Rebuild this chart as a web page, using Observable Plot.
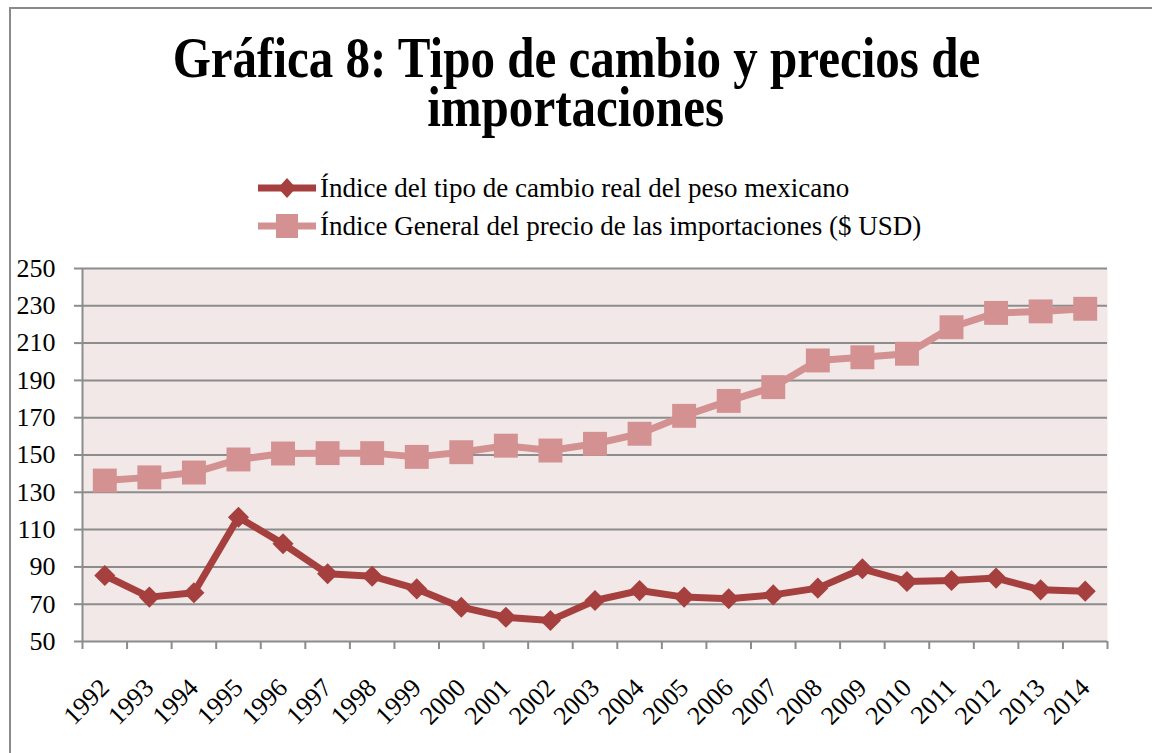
<!DOCTYPE html>
<html>
<head>
<meta charset="utf-8">
<script src="https://cdn.jsdelivr.net/npm/d3@7"></script>
<script src="https://cdn.jsdelivr.net/npm/@observablehq/plot@0.6"></script>
<style>
  html, body { margin: 0; padding: 0; background: #fff; }
  #wrap { position: relative; width: 1152px; height: 753px; overflow: hidden; font-family: "Liberation Serif", serif; }
  #frame { position: absolute; left: 9px; top: 7px; width: 1200px; height: 800px; border-top: 2px solid #8a8a8a; border-left: 2px solid #8a8a8a; }
  .title { position: absolute; left: 0; width: 1152px; height: 40px; text-align: center; font-weight: bold; font-size: 57px; line-height: 40px; color: #000; white-space: nowrap; }
  .title span { display: inline-block; transform: scaleX(0.86); transform-origin: center; }
  .leg { position: absolute; left: 256px; font-size: 27px; line-height: 30px; color: #000; white-space: nowrap; display: flex; align-items: center; }
  .leg svg { display: block; margin-right: 2px; }
  #chart { position: absolute; left: 0; top: 250px; }
</style>
</head>
<body>
<div id="wrap">
  <div id="frame"></div>
  <div class="title" style="top:38px"><span>Gráfica 8: Tipo de cambio y precios de</span></div>
  <div class="title" style="top:87px"><span>importaciones</span></div>
  <div class="leg" id="leg1" style="top:173px"></div>
  <div class="leg" id="leg2" style="top:211px"></div>
  <div id="chart"></div>
</div>
<script>
const years = [1992,1993,1994,1995,1996,1997,1998,1999,2000,2001,2002,2003,2004,2005,2006,2007,2008,2009,2010,2011,2012,2013,2014];
const tipoCambio = [85.4,73.8,76.1,116.6,102.4,86.3,85,78.2,68.4,63,61.3,72,77.3,73.8,72.9,75,78.6,89,82.2,82.7,84,77.7,77];
const precioImport = [136.3,138,140.6,147.6,150.8,151,151,149,151.5,155,152.4,156,161.4,171,179,186.4,200.7,202.4,204.3,218.5,226.2,227,228.4];
const yTicks = [50,70,90,110,130,150,170,190,210,230,250];
const seriesNames = ["Índice del tipo de cambio real del peso mexicano", "Índice General del precio de las importaciones ($ USD)"];

const darkColor = "#a5403e";
const lightColor = "#d39191";

const rowsA = years.map((y,i) => ({year: y, value: tipoCambio[i]}));
const rowsB = years.map((y,i) => ({year: y, value: precioImport[i]}));
const bounds = [years[0]-0.5, ...years.map(y => y+0.5)];

const plot = Plot.plot({
  width: 1152,
  height: 503,
  marginLeft: 82,
  marginRight: 45,
  marginTop: 18,
  marginBottom: 112,
  style: {fontFamily: "Liberation Serif, serif", fontSize: "26px", color: "#000", background: "transparent", overflow: "visible"},
  x: {type: "linear", domain: [years[0]-0.5, years[years.length-1]+0.5]},
  y: {domain: [50, 250]},
  marks: [
    Plot.frame({fill: "#f2e8e8", stroke: null}),
    Plot.ruleY(yTicks, {stroke: "#8c8c8c", strokeWidth: 2}),
    Plot.ruleX([years[0]-0.5], {stroke: "#8c8c8c", strokeWidth: 2}),
    Plot.axisY({ticks: yTicks, tickSize: 8, tickPadding: 19, stroke: "#8c8c8c", strokeWidth: 2, label: null, fill: "#000", strokeOpacity: 1}),
    Plot.axisX({ticks: bounds, tickFormat: () => "", tickSize: 8, stroke: "#8c8c8c", strokeWidth: 2, label: null, strokeOpacity: 1}),
    Plot.axisX({ticks: years, tickFormat: d => String(d), tickSize: 0, tickRotate: -45, fontSize: 26, dy: 30, dx: 0, label: null, fill: "#000"}),
    Plot.line(rowsB, {x: "year", y: "value", stroke: lightColor, strokeWidth: 7}),
    Plot.dot(rowsB, {x: "year", y: "value", symbol: "square", r: 13.5, fill: lightColor, stroke: null}),
    Plot.line(rowsA, {x: "year", y: "value", stroke: darkColor, strokeWidth: 7}),
    Plot.dot(rowsA, {x: "year", y: "value", symbol: "diamond2", r: 9.5, fill: darkColor, stroke: null})
  ]
});
document.getElementById("chart").appendChild(plot);

function swatch(color, shape) {
  const s = d3.create("svg").attr("width", 62).attr("height", 26);
  s.append("line").attr("x1", 2).attr("x2", 60).attr("y1", 13).attr("y2", 13).attr("stroke", color).attr("stroke-width", 7);
  if (shape === "diamond") {
    s.append("path").attr("d", "M31,3L40,13L31,23L22,13Z").attr("fill", color);
  } else {
    s.append("rect").attr("x", 20).attr("y", 1).attr("width", 22).attr("height", 24).attr("fill", color);
  }
  return s.node();
}
const l1 = document.getElementById("leg1");
l1.appendChild(swatch(darkColor, "diamond"));
l1.appendChild(Object.assign(document.createElement("span"), {textContent: seriesNames[0]}));
const l2 = document.getElementById("leg2");
l2.appendChild(swatch(lightColor, "square"));
l2.appendChild(Object.assign(document.createElement("span"), {textContent: seriesNames[1]}));
</script>
</body>
</html>
